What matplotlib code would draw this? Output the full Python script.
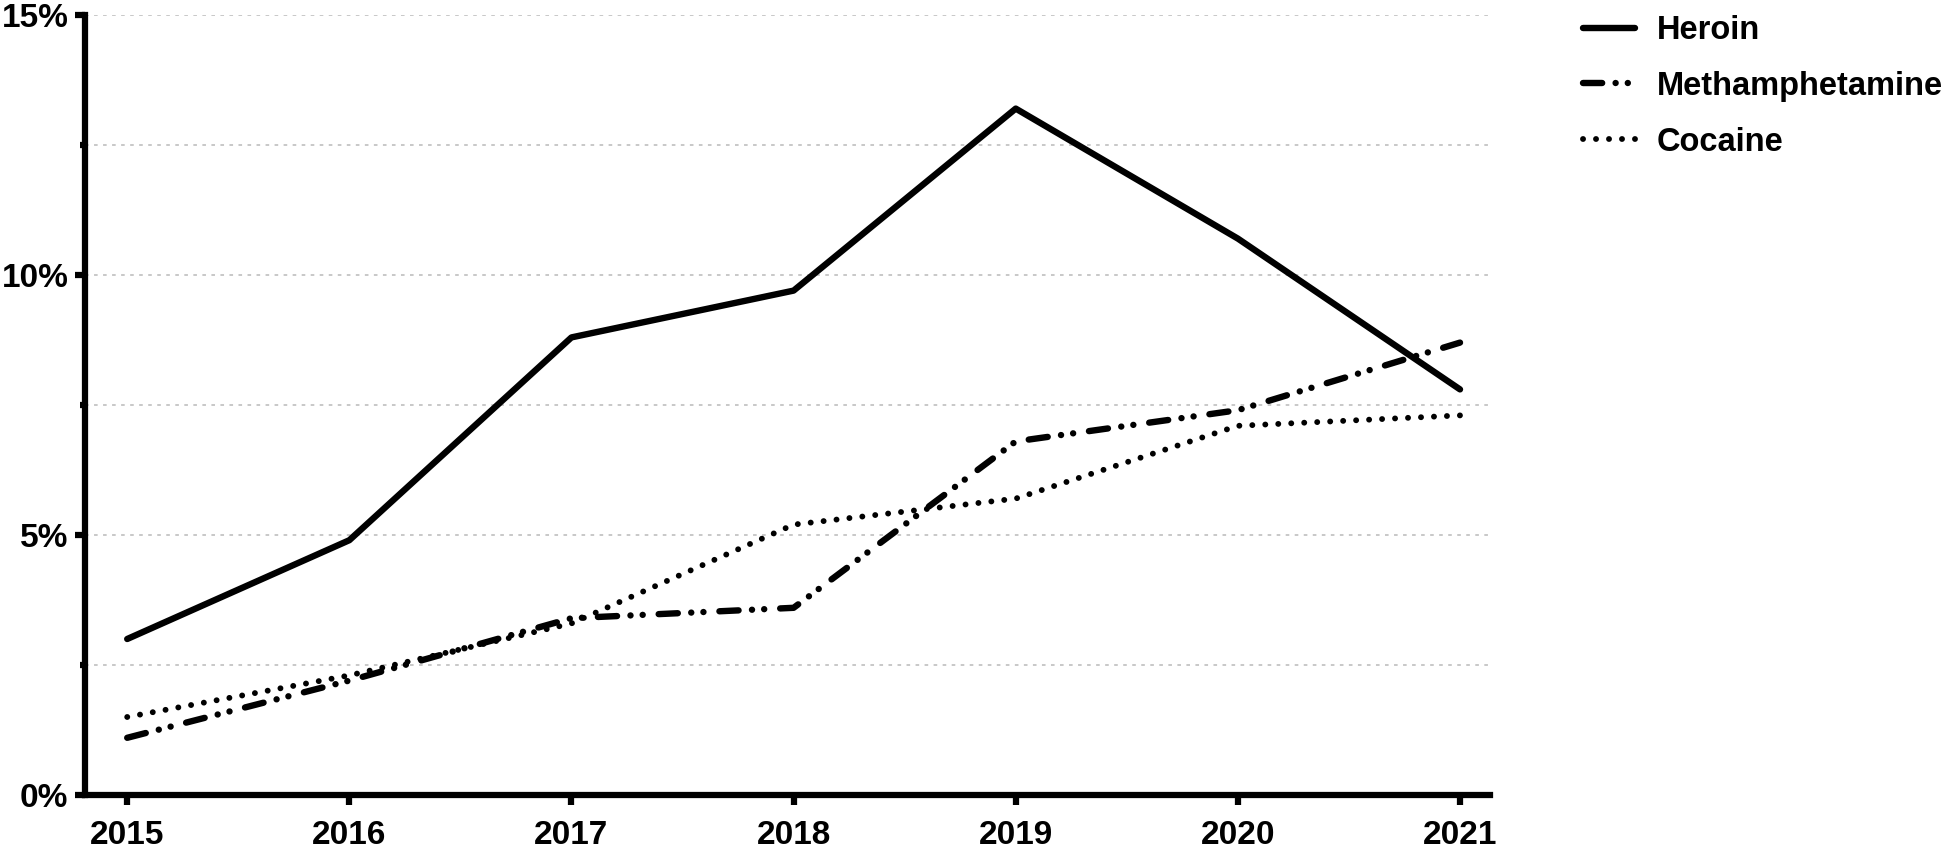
import matplotlib
matplotlib.use("Agg")
import matplotlib.pyplot as plt
from matplotlib.ticker import FixedLocator

plt.rcParams['font.family'] = ['Liberation Sans', 'DejaVu Sans']
plt.rcParams['font.weight'] = 'bold'

years = [2015, 2016, 2017, 2018, 2019, 2020, 2021]
heroin = [3.0, 4.9, 8.8, 9.7, 13.2, 10.7, 7.8]
meth = [1.1, 2.2, 3.4, 3.6, 6.8, 7.4, 8.7]
cocaine = [1.5, 2.3, 3.3, 5.2, 5.7, 7.1, 7.3]
series_names = ["Heroin", "Methamphetamine", "Cocaine"]
y_major = [0, 5, 10, 15]
y_minor = [2.5, 7.5, 12.5]
y_labels = ["0%", "5%", "10%", "15%"]

fig = plt.figure(figsize=(19.5, 8.51), dpi=100)
ax = fig.add_axes([85/1950, 1-795/851, (1490-85)/1950, (795-15)/851])

lw = 4.6
ax.plot(years, heroin, color='black', lw=lw, solid_capstyle='round',
        solid_joinstyle='round', label=series_names[0], zorder=3)
l2, = ax.plot(years, meth, color='black', lw=lw, dash_capstyle='round',
              label=series_names[1], zorder=3)
l2.set_dashes((3.0, 2.1, 0.01, 1.9, 0.01, 2.5))
l3, = ax.plot(years, cocaine, color='black', lw=lw*0.92, dash_capstyle='round',
              label=series_names[2], zorder=3)
l3.set_dashes((0.01, 2.2))

ax.set_xlim(2014.81, 2021.135)
ax.set_ylim(0, 15)
ax.set_xticks(years)
ax.set_xticklabels([str(y) for y in years])
ax.yaxis.set_major_locator(FixedLocator(y_major))
ax.yaxis.set_minor_locator(FixedLocator(y_minor))
ax.set_yticklabels(y_labels)

for v in y_major[1:] + y_minor:
    ax.axhline(v, color='#c4c4c4', lw=1.3, ls=(0, (2, 3)), zorder=1)

for s in ['top', 'right']:
    ax.spines[s].set_visible(False)
for s in ['left', 'bottom']:
    ax.spines[s].set_linewidth(4.5)
    ax.spines[s].set_capstyle('projecting')

ax.tick_params(axis='both', which='major', direction='out', length=7,
               width=4.5, labelsize=24, pad=5)
ax.tick_params(axis='y', which='minor', direction='out', length=3.5, width=4.5)
ax.tick_params(axis='x', pad=11)
for t in ax.get_xticklabels() + ax.get_yticklabels():
    t.set_fontweight('bold')

leg = ax.legend(loc='upper left', bbox_to_anchor=(1570/1950, 1-2/851),
                bbox_transform=fig.transFigure, frameon=False,
                prop={'size': 23.5, 'weight': 'bold'}, handlelength=1.58,
                handletextpad=0.68, labelspacing=0.76, borderaxespad=0)

fig.savefig("out.png", dpi=100)
